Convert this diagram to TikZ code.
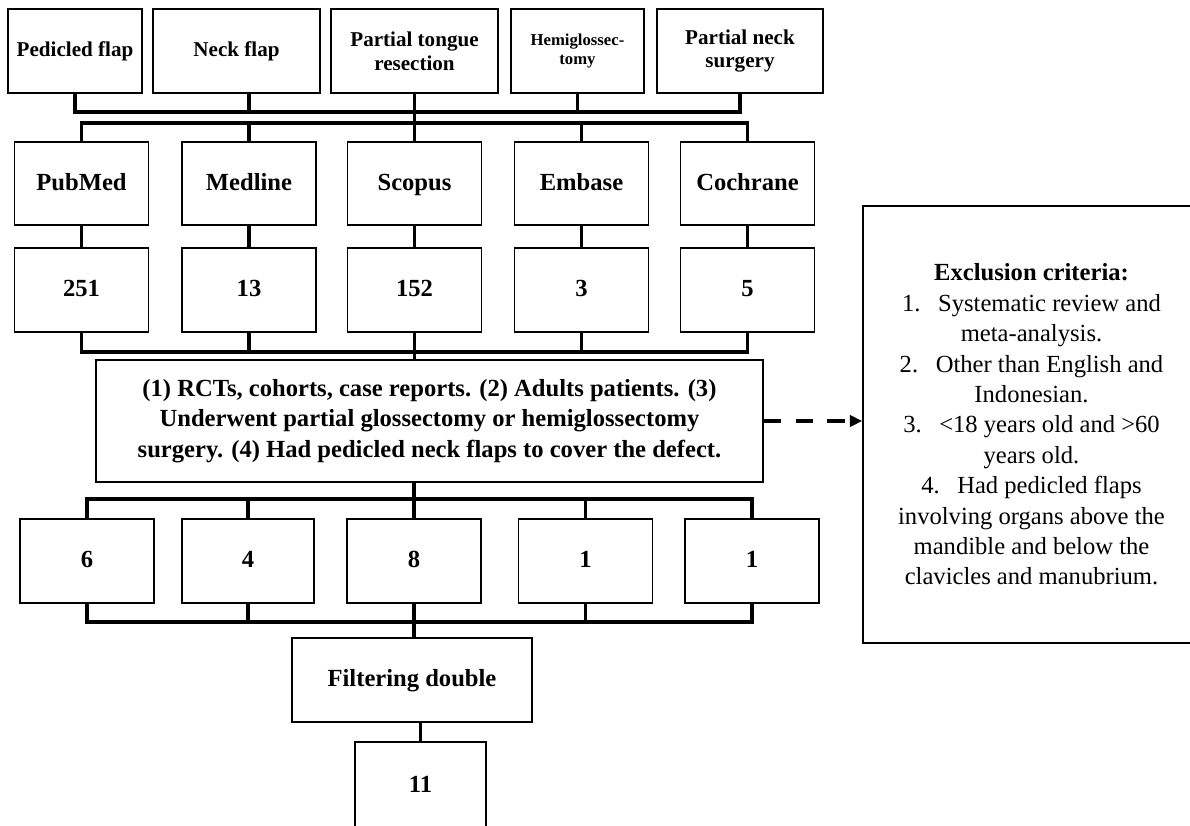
\documentclass[tikz,border=0pt]{standalone}
\usepackage{fontspec}
\setmainfont{Liberation Serif}
\usetikzlibrary{arrows.meta}

\begin{document}
\begin{tikzpicture}[
  boite/.style={draw, line width=1pt, align=center, inner sep=1pt,
    font=\fontsize{14}{17.4}\selectfont\bfseries,
    minimum width=2.68cm, minimum height=1.68cm},
  simple/.style={boite, text height=1.9ex, text depth=0.25ex},
  petite/.style={boite, font=\fontsize{12}{13.5}\selectfont\bfseries},
  lien/.style={line width=2.2pt},
  pointille/.style={line width=2.2pt, dash pattern=on 10pt off 8pt,
    -{Triangle[length=7pt, width=6.5pt]}}
]

\useasboundingbox (0,0) rectangle (23.8,-16.5);

% Mots-clés
\node[petite] (pedicule) at (1.50,-1.02) {Pedicled flap};
\node[petite, minimum width=3.34cm] (lambeau) at (4.73,-1.02) {Neck flap};
\node[petite, minimum width=3.34cm] (langue) at (8.29,-1.02) {Partial tongue\\resection};
\node[petite, minimum width=2.66cm, font=\fontsize{9.5}{10.8}\selectfont\bfseries]
  (hemi) at (11.55,-1.02) {Hemiglossec-\\tomy};
\node[petite, minimum width=3.32cm] (cou) at (14.80,-1.02) {Partial neck\\surgery};

% Bases de données
\node[simple, minimum height=1.66cm] (pubmed) at (1.63,-3.67) {PubMed};
\node[simple, minimum height=1.66cm] (medline) at (4.98,-3.67) {Medline};
\node[simple, minimum height=1.66cm] (scopus) at (8.29,-3.67) {Scopus};
\node[simple, minimum height=1.66cm] (embase) at (11.63,-3.67) {Embase};
\node[simple, minimum height=1.66cm] (cochrane) at (14.95,-3.67) {Cochrane};

% Résultats bruts
\node[simple] (rA) at (1.63,-5.80) {251};
\node[simple] (rB) at (4.98,-5.80) {13};
\node[simple] (rC) at (8.29,-5.80) {152};
\node[simple] (rD) at (11.63,-5.80) {3};
\node[simple] (rE) at (14.95,-5.80) {5};

% Critères d'inclusion
\node[boite, minimum width=13.34cm, minimum height=2.44cm] (inclus) at (8.59,-8.42)
  {(1) RCTs, cohorts, case reports. (2) Adults patients. (3)\\
   Underwent partial glossectomy or hemiglossectomy\\
   surgery. (4) Had pedicled neck flaps to cover the defect.};

% Critères d'exclusion
\node[boite, font=\fontsize{14}{17.3}\selectfont, minimum width=6.74cm,
  minimum height=8.74cm] (exclus) at (20.63,-8.49)
  {\textbf{Exclusion criteria:}\\
   1.\hspace{10pt}Systematic review and\\ meta-analysis.\\
   2.\hspace{10pt}Other than English and\\ Indonesian.\\
   3.\hspace{10pt}<18 years old and >60\\ years old.\\
   4.\hspace{10pt}Had pedicled flaps\\ involving organs above the\\
   mandible and below the\\ clavicles and manubrium.};

% Articles retenus
\node[simple] (sA) at (1.74,-11.22) {6};
\node[simple, minimum width=2.64cm] (sB) at (4.96,-11.22) {4};
\node[simple] (sC) at (8.28,-11.22) {8};
\node[simple] (sD) at (11.71,-11.22) {1};
\node[simple] (sE) at (15.04,-11.22) {1};

% Doublons
\node[simple, minimum width=4.80cm] (doublon) at (8.24,-13.60) {Filtering double};
\node[simple, minimum width=2.62cm, minimum height=1.76cm] (final) at (8.41,-15.72) {11};

% Barres
\coordinate (bus1) at (0,-2.24);
\coordinate (bus2) at (0,-2.46);
\coordinate (bus3) at (0,-7.04);
\coordinate (bus4) at (0,-9.98);
\coordinate (bus5) at (0,-12.44);

\draw[lien] (pedicule.south) |- (bus1 -| cou.south) -- (cou.south);
\draw[lien] (lambeau.south -| medline) -- (bus1 -| medline);
\draw[lien] (hemi.south) -- (hemi.south |- bus1);
\draw[lien] (langue.south) -- (scopus.north);

\draw[lien] (pubmed.north) |- (bus2 -| cochrane.north) -- (cochrane.north);
\foreach \n in {medline,embase}
  \draw[lien] (\n.north) -- (\n.north |- bus2);

\foreach \a/\b in {pubmed/rA,medline/rB,scopus/rC,embase/rD,cochrane/rE}
  \draw[lien] (\a.south) -- (\b.north);

\draw[lien] (rA.south) |- (bus3 -| rE.south) -- (rE.south);
\foreach \n in {rB,rD}
  \draw[lien] (\n.south) -- (\n.south |- bus3);
\draw[lien] (rC.south) -- (inclus.north -| rC.south);

\draw[lien] (inclus.south -| sC.north) -- (sC.north);
\draw[lien] (sA.north) |- (bus4 -| sE.north) -- (sE.north);
\foreach \n in {sB,sD}
  \draw[lien] (\n.north) -- (\n.north |- bus4);

\draw[lien] (sA.south) |- (bus5 -| sE.south) -- (sE.south);
\foreach \n in {sB,sD}
  \draw[lien] (\n.south) -- (\n.south |- bus5);
\draw[lien] (sC.south) -- (doublon.north -| sC.south);
\draw[lien] (doublon.south -| final.north) -- (final.north);

% Exclusion
\draw[pointille] (inclus.east) -- (inclus.east -| exclus.west);

\end{tikzpicture}
\end{document}
